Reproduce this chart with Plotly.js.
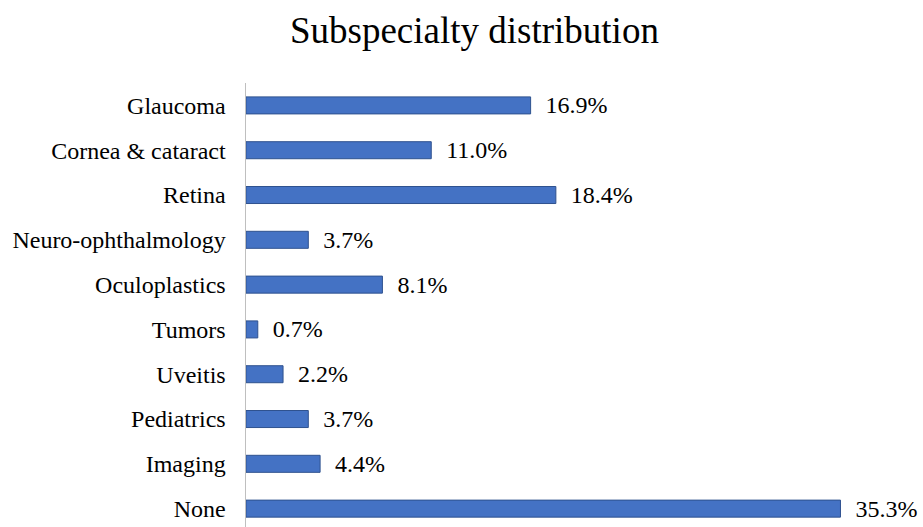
<!DOCTYPE html>
<html>
<head>
<meta charset="utf-8">
<script src="https://cdn.plot.ly/plotly-3.0.1.min.js"></script>
<style>html,body{margin:0;padding:0;background:#fff;}#chart{width:923px;height:527px;}</style>
</head>
<body>
<div id="chart"></div>
<script>
var categories = ["Glaucoma", "Cornea & cataract", "Retina", "Neuro-ophthalmology", "Oculoplastics", "Tumors", "Uveitis", "Pediatrics", "Imaging", "None"];
var percentages = [16.9, 11.0, 18.4, 3.7, 8.1, 0.7, 2.2, 3.7, 4.4, 35.3];
var labels = percentages.map(function(v){ return "\u00a0\u00a0" + v.toFixed(1) + "%"; });

var SERIF = "Liberation Serif, Times New Roman, serif";

var trace = {
  type: "bar",
  orientation: "h",
  y: categories,
  x: percentages,
  text: labels,
  textposition: "outside",
  constraintext: "none",
  cliponaxis: false,
  textfont: {family: SERIF, size: 24, color: "#000"},
  marker: {color: "#4472C4", line: {color: "#2F528F", width: 1}},
  hoverinfo: "none"
};

var layout = {
  width: 923, height: 527,
  margin: {l: 246, r: 0, t: 83, b: 0},
  paper_bgcolor: "#fff", plot_bgcolor: "#fff",
  bargap: 0.62,
  showlegend: false,
  font: {family: SERIF, color: "#000"},
  title: {
    text: "Subspecialty distribution",
    font: {family: SERIF, size: 37, color: "#000"},
    x: 0.514, xref: "container", xanchor: "center",
    y: 0.943, yref: "container", yanchor: "middle"
  },
  xaxis: {range: [0, 40.2], visible: false, showgrid: false, zeroline: false, fixedrange: true},
  yaxis: {
    type: "category",
    categoryorder: "array", categoryarray: categories,
    range: [9.41, -0.5],
    showline: true, linecolor: "#BFBFBF", linewidth: 1.5,
    ticks: "", showgrid: false, zeroline: false,
    ticklabelstandoff: 14,
    tickfont: {family: SERIF, size: 24, color: "#000"},
    fixedrange: true
  }
};

Plotly.newPlot("chart", [trace], layout, {displayModeBar: false, staticPlot: true});
</script>
</body>
</html>
